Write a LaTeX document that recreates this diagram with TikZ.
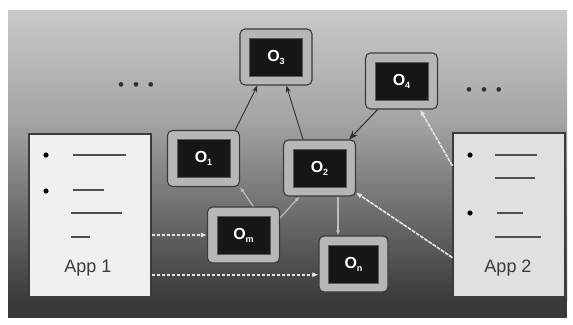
\documentclass[tikz,border=0pt]{standalone}
\usepackage{fontspec}
\setmainfont{Liberation Sans}
\usetikzlibrary{arrows.meta,calc}
\definecolor{bgA}{HTML}{C9C9C9}
\definecolor{bgB}{HTML}{A4A4A4}
\definecolor{bgC}{HTML}{3A3A3A}
\definecolor{bgD}{HTML}{3A3A3A}
\definecolor{band}{HTML}{B6B6B6}
\definecolor{objline}{HTML}{3A3A3A}
\definecolor{innerfill}{HTML}{161616}
\definecolor{innerline}{HTML}{5A5A5A}
\definecolor{appAfill}{HTML}{F0F0F0}
\definecolor{appBfill}{HTML}{E0E0E0}
\definecolor{appline}{HTML}{3C3C3C}
\definecolor{txtline}{HTML}{505050}
\definecolor{darkarrow}{HTML}{2E2E2E}
\definecolor{lightarrow}{HTML}{E6E6E6}
\definecolor{greyarrow}{HTML}{BDBDBD}
\newcommand{\objlbl}[1]{O\raisebox{-3pt}{\fontsize{9}{9}\selectfont #1}}
\begin{document}
\begin{tikzpicture}[x=1pt,y=-1pt,
  obj/.style={draw=objline, line width=1.1pt, fill=band, rounded corners=5pt,
    minimum width=72pt, minimum height=56pt, inner sep=0pt, text=white,
    font=\fontsize{16}{16}\selectfont\bfseries,
    path picture={\filldraw[fill=innerfill, draw=innerline, line width=0.8pt, sharp corners]
      ($(path picture bounding box.south west)+(9.5pt,9pt)$) rectangle
      ($(path picture bounding box.north east)+(-9.5pt,-9pt)$);}},
  appbox/.style={draw=appline, line width=1.1pt, inner sep=0pt},
  applbl/.style={text=appline, font=\fontsize{18}{18}\selectfont, inner sep=0pt},
  dots/.style={text=darkarrow, font=\fontsize{17}{17}\selectfont, inner sep=0pt},
  txt/.style={draw=txtline, line width=1.2pt},
  bul/.style={fill=black},
  darkarr/.style={draw=darkarrow, line width=0.9pt, -{Stealth[length=7pt,width=5pt]}},
  bigdarkarr/.style={draw=darkarrow, line width=1pt, -{Stealth[length=9pt,width=7pt]}},
  lightarr/.style={draw=lightarrow, line width=1.6pt, dash pattern=on 4pt off 1pt, -{Latex[length=6pt,width=5pt]}},
  dasharr/.style={draw=lightarrow, line width=1.6pt, dash pattern=on 3pt off 2pt, -{Latex[length=6pt,width=5pt]}},
  greyarr/.style={draw=greyarrow, line width=1.2pt, -{Latex[length=5pt,width=4pt]}}
]
\useasboundingbox (0,0) rectangle (573,324);
% background panel
\shade[top color=bgA, bottom color=bgB] (8,10) rectangle (567,120);
\shade[top color=bgB, bottom color=bgC] (8,119.5) rectangle (567,300);
\fill[bgD] (8,299.5) rectangle (567,318);

% application boxes
\node[appbox, fill=appAfill, minimum width=122pt, minimum height=163pt] (app1) at (90,215.5) {};
\node[appbox, fill=appBfill, minimum width=112pt, minimum height=164pt] (app2) at (509,215) {};
\node[applbl] (app1lbl) at (88,268) {App 1};
\node[applbl] (app2lbl) at (508,268) {App 2};

% text lines in app boxes
\fill[bul] (46,155) circle (2.6);
\draw[txt] (73,155) -- (126,155);
\fill[bul] (46,191) circle (2.6);
\draw[txt] (73,190) -- (104,190);
\draw[txt] (71,213) -- (122,213);
\draw[txt] (71,237) -- (90,237);

\fill[bul] (470,155) circle (2.6);
\draw[txt] (495,155) -- (537,155);
\draw[txt] (495,178) -- (535,178);
\fill[bul] (470,213) circle (2.6);
\draw[txt] (497,213) -- (523,213);
\draw[txt] (495,237) -- (541,237);

% ellipses
\node[dots] (dl) at (136,87) {•\hspace{9pt}•\hspace{9pt}•};
\node[dots] (dr) at (484,92) {•\hspace{9pt}•\hspace{9pt}•};

% objects
\node[obj] (o3t) at (276,57) {\objlbl{3}};
\node[obj] (o4) at (401.5,81) {\objlbl{4}};
\node[obj] (o1) at (203.5,158.5) {\objlbl{1}};
\node[obj] (o2) at (319.5,168) {\objlbl{2}};
\node[obj] (om) at (243.5,235) {\objlbl{m}};
\node[obj, minimum width=69pt] (on) at (353.5,264) {\objlbl{n}};

% connectors
\draw[darkarr] (o1.42) -- (o3t.237);
\draw[darkarr] (o2.120) -- (o3t.290);
\draw[bigdarkarr] (o4.230) -- (o2.44);
\draw[lightarr] (app2.139) -- (o4.303);
\draw[lightarr] (app2.217) -- (o2.-34);
\draw[greyarr] (o2.303) -- (o2.303 |- on.north);
\draw[greyarr] (om.71) -- (o1.south east);
\draw[greyarr] (om.25) -- (o2.235);
\draw[dasharr] (app1.east |- om.west) -- (om.west);
\draw[dasharr] (app1.east |- on.197) -- (on.197);
\end{tikzpicture}
\end{document}
